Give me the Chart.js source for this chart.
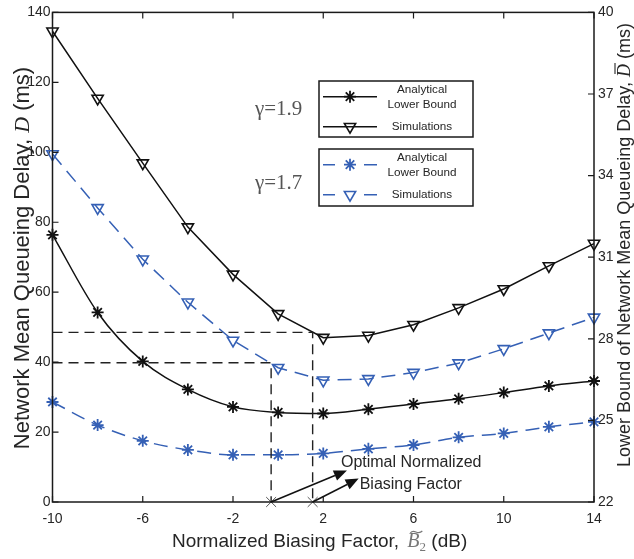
<!DOCTYPE html>
<html><head><meta charset="utf-8">
<script src="https://cdn.jsdelivr.net/npm/chart.js@4.4.1/dist/chart.umd.min.js"></script>
<style>html,body{margin:0;padding:0;background:#fff}#wrap{width:634px;height:559px}</style>
</head><body><div id="wrap"><canvas id="c" width="634" height="559"></canvas></div>
<script>
// ---- data ----
const biasDb  = [-10, -8, -6, -4, -2, 0, 2, 4, 6, 8, 10, 12, 14];
const simG19  = [134.6, 115.4, 96.9, 78.6, 65.1, 53.8, 47.0, 47.6, 50.7, 55.5, 60.9, 67.5, 73.9];
const anaG19  = [76.4, 54.2, 40.2, 32.2, 27.2, 25.6, 25.3, 26.5, 28.0, 29.5, 31.3, 33.2, 34.6];
const simG17  = [99.5, 84.1, 69.4, 57.1, 46.2, 38.4, 34.8, 35.2, 37.0, 39.7, 43.8, 48.3, 52.8];
const anaG17  = [28.6, 22.0, 17.5, 14.9, 13.5, 13.5, 13.9, 15.2, 16.3, 18.5, 19.6, 21.5, 22.9];
const optBias  = [-0.31, 1.53];
const optDelay = [39.8, 48.5];
const arrowTips = [[3.05, 9.0], [3.57, 6.7]];
const xTicks  = [-10, -6, -2, 2, 6, 10, 14];
const yTicks  = [0, 20, 40, 60, 80, 100, 120, 140];
const y2Ticks = [22, 25, 28, 31, 34, 37, 40];
const gammaLabels = ['γ=1.9', 'γ=1.7'];
const legendAnalytical = ['Analytical', 'Lower Bound'];
const legendSim = 'Simulations';
const noteLines = ['Optimal Normalized', 'Biasing Factor'];

const BLUE = '#3560b5';
const BLACK = '#111';
const TXT = '#262626';
const SANS = '"Liberation Sans", Arial, sans-serif';
const SERIF = '"Liberation Serif", "Times New Roman", serif';

Chart.defaults.font.family = SANS;

const pts = ys => biasDb.map((x, i) => ({x, y: ys[i]}));
const refLine = i => [{x: -10, y: optDelay[i]}, {x: optBias[i], y: optDelay[i]}, {x: optBias[i], y: 0}];

const datasets = [
  {data: refLine(1), borderColor: '#222', borderWidth: 1.4, borderDash: [10, 6], pointRadius: 0, showLine: true},
  {data: refLine(0), borderColor: '#222', borderWidth: 1.4, borderDash: [10, 6], pointRadius: 0, showLine: true},
  {data: pts(simG19), borderColor: BLACK, borderWidth: 1.5, showLine: true, pointStyle: 'triangle', pointRotation: 180,
   pointRadius: 6.5, pointBorderWidth: 1.6, pointBorderColor: BLACK, pointBackgroundColor: 'rgba(0,0,0,0)'},
  {data: pts(anaG19), borderColor: BLACK, borderWidth: 1.5, showLine: true, cubicInterpolationMode: 'monotone',
   pointStyle: 'star', pointRadius: 6, pointBorderWidth: 1.8, pointBorderColor: BLACK},
  {data: pts(simG17), borderColor: BLUE, borderWidth: 1.5, borderDash: [14, 8], showLine: true, pointStyle: 'triangle', pointRotation: 180,
   pointRadius: 6.5, pointBorderWidth: 1.6, pointBorderColor: BLUE, pointBackgroundColor: 'rgba(0,0,0,0)'},
  {data: pts(anaG17), borderColor: BLUE, borderWidth: 1.5, borderDash: [14, 8], showLine: true, cubicInterpolationMode: 'monotone',
   pointStyle: 'star', pointRadius: 6, pointBorderWidth: 1.8, pointBorderColor: BLUE},
  {data: optBias.map(x => ({x, y: 0})), showLine: false, pointStyle: 'crossRot', pointRadius: 7,
   pointBorderWidth: 1, pointBorderColor: '#555'}
].map(d => Object.assign({yAxisID: 'y', clip: false, fill: false}, d));

function tickFrom(arr) { return s => { s.ticks = arr.map(v => ({value: v})); }; }

const decor = {
  id: 'decor',
  afterDatasetsDraw(chart) {
    const ctx = chart.ctx, a = chart.chartArea;
    const xs = chart.scales.x, ys = chart.scales.y, y2 = chart.scales.y2;
    ctx.save();
    // frame
    ctx.strokeStyle = '#1a1a1a'; ctx.lineWidth = 1.5; ctx.setLineDash([]);
    ctx.strokeRect(a.left, a.top, a.right - a.left, a.bottom - a.top);
    // inward ticks
    ctx.lineWidth = 1.2; ctx.beginPath();
    xTicks.forEach(v => { const p = xs.getPixelForValue(v);
      ctx.moveTo(p, a.bottom); ctx.lineTo(p, a.bottom - 6);
      ctx.moveTo(p, a.top); ctx.lineTo(p, a.top + 6); });
    yTicks.forEach(v => { const p = ys.getPixelForValue(v);
      ctx.moveTo(a.left, p); ctx.lineTo(a.left + 6, p); });
    y2Ticks.forEach(v => { const p = y2.getPixelForValue(v);
      ctx.moveTo(a.right, p); ctx.lineTo(a.right - 6, p); });
    ctx.stroke();

    // gamma labels
    ctx.fillStyle = '#555'; ctx.font = '21px ' + SERIF; ctx.textBaseline = 'middle'; ctx.textAlign = 'left';
    ctx.fillText(gammaLabels[0], 255, 109);
    ctx.fillText(gammaLabels[1], 255, 183);

    // legend boxes
    const drawBox = (top, h, color, dashed) => {
      const L = 319, W = 154;
      ctx.fillStyle = '#fff'; ctx.fillRect(L, top, W, h);
      ctx.strokeStyle = '#1a1a1a'; ctx.lineWidth = 1.5; ctx.setLineDash([]);
      ctx.strokeRect(L, top, W, h);
      const rows = [[top + 15.7, 'star', 0], [top + 45.7, 'triangle', 180]];
      rows.forEach(([yy, st, rot]) => {
        ctx.strokeStyle = color; ctx.lineWidth = 1.5; ctx.beginPath();
        if (dashed) { ctx.moveTo(323, yy); ctx.lineTo(335, yy); ctx.moveTo(364, yy); ctx.lineTo(377, yy); }
        else { ctx.moveTo(323, yy); ctx.lineTo(377, yy); }
        ctx.stroke();
        ctx.fillStyle = 'rgba(0,0,0,0)';
        ctx.lineWidth = st === 'star' ? 1.8 : 1.6;
        Chart.helpers.drawPoint(ctx, {pointStyle: st, rotation: rot, radius: st === 'star' ? 6 : 6.5, borderWidth: 1.6}, 350, yy);
      });
      ctx.fillStyle = TXT; ctx.font = '11.7px ' + SANS; ctx.textAlign = 'center'; ctx.textBaseline = 'middle';
      ctx.fillText(legendAnalytical[0], 422, top + 9);
      ctx.fillText(legendAnalytical[1], 422, top + 23.3);
      ctx.fillText(legendSim, 422, top + 45.7);
    };
    drawBox(81, 56, BLACK, false);
    drawBox(149, 57, BLUE, true);

    // arrows + note
    ctx.strokeStyle = '#111'; ctx.fillStyle = '#111'; ctx.lineWidth = 1.5; ctx.setLineDash([]);
    const tipPx = [];
    optBias.forEach((bx, i) => {
      const x0 = xs.getPixelForValue(bx), y0 = ys.getPixelForValue(0);
      const x1 = xs.getPixelForValue(arrowTips[i][0]), y1 = ys.getPixelForValue(arrowTips[i][1]);
      tipPx.push([x1, y1]);
      const ang = Math.atan2(y1 - y0, x1 - x0), hl = 13, hw = 5.5;
      const bx1 = x1 - hl * Math.cos(ang), by1 = y1 - hl * Math.sin(ang);
      ctx.beginPath(); ctx.moveTo(x0, y0); ctx.lineTo(bx1, by1); ctx.stroke();
      ctx.beginPath(); ctx.moveTo(x1, y1);
      ctx.lineTo(bx1 + hw * Math.sin(ang), by1 - hw * Math.cos(ang));
      ctx.lineTo(bx1 - hw * Math.sin(ang), by1 + hw * Math.cos(ang));
      ctx.closePath(); ctx.fill();
    });
    ctx.fillStyle = TXT; ctx.font = '16px ' + SANS; ctx.textAlign = 'left'; ctx.textBaseline = 'middle';
    ctx.fillText(noteLines[0], tipPx[0][0] - 6, tipPx[0][1] - 7.5);
    ctx.fillText(noteLines[1], tipPx[1][0] + 1, tipPx[1][1] + 6.5);

    // x title
    ctx.textBaseline = 'alphabetic'; ctx.textAlign = 'left';
    let x = 172; const by = 547;
    ctx.font = '19px ' + SANS; ctx.fillStyle = TXT;
    const t1 = 'Normalized Biasing Factor, ';
    ctx.fillText(t1, x, by); x += ctx.measureText(t1).width + 3;
    ctx.font = 'italic 20px ' + SERIF; ctx.fillStyle = '#777';
    ctx.fillText('B', x, by);
    const bw = ctx.measureText('B').width;
    ctx.strokeStyle = '#777'; ctx.lineWidth = 1.2; ctx.beginPath();
    const tx = x + 3, ty = by - 16;
    ctx.moveTo(tx, ty + 2); ctx.bezierCurveTo(tx + 4, ty - 3, tx + 7, ty + 5, tx + 12, ty);
    ctx.stroke();
    x += bw;
    ctx.font = '13px ' + SERIF; ctx.fillText('2', x, by + 4); x += ctx.measureText('2').width;
    ctx.font = '19px ' + SANS; ctx.fillStyle = TXT;
    ctx.fillText(' (dB)', x, by);

    // rotated titles
    const drawRot = (cx, cy, parts) => {
      ctx.save(); ctx.translate(cx, cy); ctx.rotate(-Math.PI / 2);
      let total = 0;
      parts.forEach(p => { ctx.font = p.font; total += ctx.measureText(p.t).width; });
      let px = -total / 2;
      ctx.textBaseline = 'middle'; ctx.textAlign = 'left';
      parts.forEach(p => {
        ctx.font = p.font; ctx.fillStyle = p.color || TXT;
        ctx.fillText(p.t, px, 0);
        const w = ctx.measureText(p.t).width;
        if (p.bar) { ctx.strokeStyle = p.color || TXT; ctx.lineWidth = 1.1; ctx.beginPath();
          ctx.moveTo(px + 3, -10); ctx.lineTo(px + w + 1, -10); ctx.stroke(); }
        px += w;
      });
      ctx.restore();
    };
    drawRot(23, 258, [
      {t: 'Network Mean Queueing Delay, ', font: '22px ' + SANS},
      {t: 'D', font: 'italic 22px ' + SERIF},
      {t: ' (ms)', font: '22px ' + SANS}
    ]);
    drawRot(625, 245, [
      {t: 'Lower Bound of Network Mean Queueing Delay, ', font: '18px ' + SANS},
      {t: 'D', font: 'italic 18px ' + SERIF, bar: true},
      {t: ' (ms)', font: '18px ' + SANS}
    ]);
    ctx.restore();
  }
};

new Chart(document.getElementById('c'), {
  type: 'scatter',
  data: {datasets},
  options: {
    responsive: false, animation: false, devicePixelRatio: 1,
    layout: {padding: {top: 10, left: 0, right: 0, bottom: 0}},
    plugins: {legend: {display: false}, tooltip: {enabled: false}},
    scales: {
      x: {type: 'linear', min: -10, max: 14, afterBuildTicks: tickFrom(xTicks),
          grid: {display: false, drawTicks: false}, border: {display: false},
          ticks: {color: TXT, font: {size: 14}, padding: 9, maxRotation: 0},
          afterFit: s => { s.height = 57; }},
      y: {type: 'linear', position: 'left', min: 0, max: 140, afterBuildTicks: tickFrom(yTicks),
          grid: {display: false, drawTicks: false}, border: {display: false},
          ticks: {color: TXT, font: {size: 14}, padding: 2},
          afterFit: s => { s.width = 52.5; }},
      y2: {type: 'linear', position: 'right', min: 22, max: 40, afterBuildTicks: tickFrom(y2Ticks),
          grid: {display: false, drawTicks: false}, border: {display: false},
          ticks: {color: TXT, font: {size: 14}, padding: 4},
          afterFit: s => { s.width = 40; }}
    }
  },
  plugins: [decor]
});
</script>
</body></html>
